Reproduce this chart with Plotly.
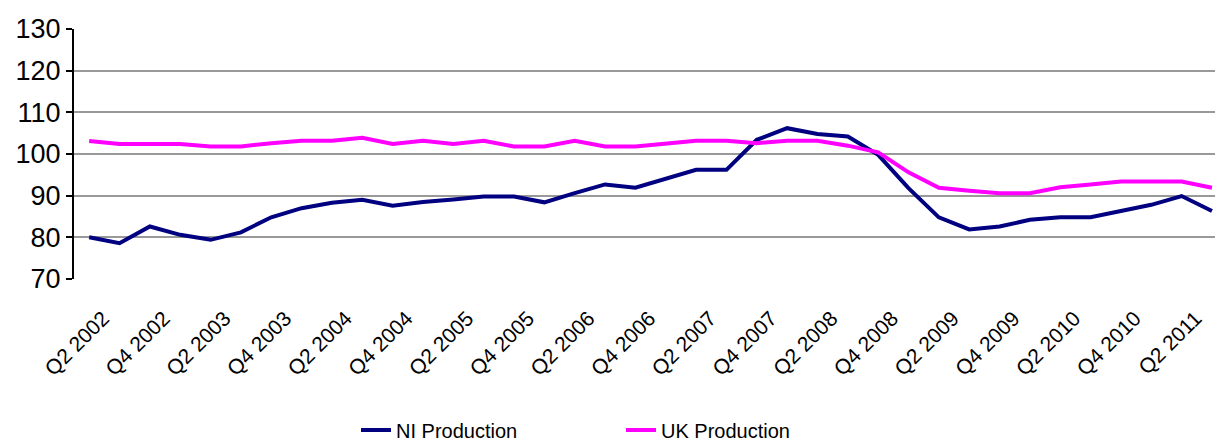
import plotly.graph_objects as go

quarters = []
for yr in range(2002, 2012):
    for q in range(1, 5):
        quarters.append(f"Q{q} {yr}")
categories = quarters[1:39]  # Q2 2002 .. Q3 2011

ni_production = [80.0, 78.6, 82.6, 80.6, 79.4, 81.2, 84.8, 87.0, 88.3, 89.0,
                 87.6, 88.5, 89.1, 89.8, 89.8, 88.4, 90.6, 92.7, 91.9, 94.0,
                 96.2, 96.2, 103.4, 106.2, 104.8, 104.2, 99.8, 91.8, 84.8, 81.9,
                 82.6, 84.2, 84.8, 84.8, 86.3, 87.8, 89.9, 86.3]
uk_production = [103.1, 102.4, 102.4, 102.4, 101.8, 101.8, 102.6, 103.2, 103.2, 103.9,
                 102.4, 103.2, 102.4, 103.2, 101.8, 101.8, 103.2, 101.8, 101.8, 102.4,
                 103.2, 103.2, 102.6, 103.2, 103.2, 102.0, 100.4, 95.6, 91.9, 91.2,
                 90.6, 90.6, 92.0, 92.7, 93.4, 93.4, 93.4, 91.9]

tick_labels = categories[::2]
xs = list(range(len(categories)))

fig = go.Figure()
fig.add_trace(go.Scatter(x=xs, y=ni_production, mode="lines", name="NI Production",
                         line=dict(color="#000080", width=4)))
fig.add_trace(go.Scatter(x=xs, y=uk_production, mode="lines", name="UK Production",
                         line=dict(color="#FF00FF", width=4)))

fig.update_layout(
    width=1215, height=443,
    margin=dict(l=74, r=0, t=29, b=164, autoexpand=False),
    paper_bgcolor="white", plot_bgcolor="white",
    font=dict(family="Liberation Sans, Arial, sans-serif", color="black"),
    showlegend=True,
    legend=dict(orientation="h", x=(356 - 74) / 1141, xanchor="left", y=-0.604, yanchor="middle",
                font=dict(size=20), entrywidth=220, entrywidthmode="pixels", tracegroupgap=0),
)
fig.update_xaxes(
    range=[-0.5, 37.1], tickmode="array", tickvals=xs[::2], ticktext=tick_labels,
    tickangle=-45, tickfont=dict(size=21), showgrid=False, showline=False,
    zeroline=False, ticks="", automargin=False,
    ticklabelstandoff=22, ticklabelshift=14,
)
fig.update_yaxes(
    range=[70, 130], tickvals=[70, 80, 90, 100, 110, 120, 130],
    tickfont=dict(size=27), showgrid=True, gridcolor="#999999", gridwidth=2,
    showline=True, linecolor="black", linewidth=2, ticks="outside", ticklen=6,
    tickcolor="black", tickwidth=2, zeroline=False, automargin=False,
)

fig.write_html("out.html", config={"displayModeBar": False},
               post_script="document.body.style.margin='0';")
